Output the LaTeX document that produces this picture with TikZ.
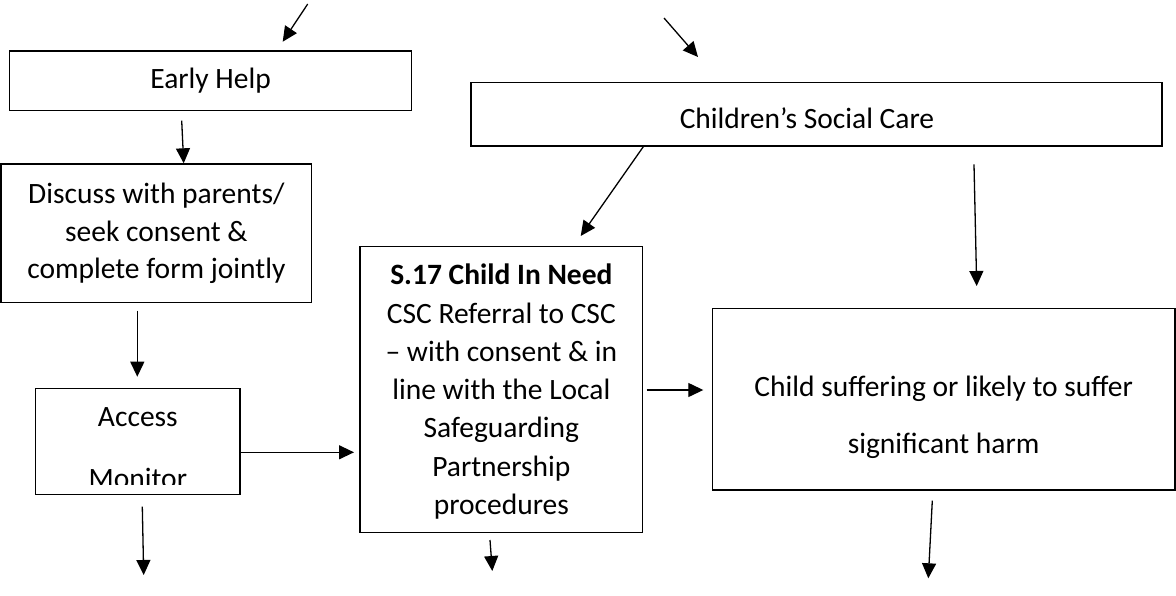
\documentclass[tikz,border=0pt]{standalone}
\usepackage{fontspec}
\setmainfont{Carlito}
\usetikzlibrary{arrows.meta}
\begin{document}
\begin{tikzpicture}[x=1pt,y=-1pt,
  box/.style={draw=black, line width=1.4pt, inner sep=0pt, shape=rectangle},
  lbl/.style={inner sep=0pt, align=center, text=black},
  arr/.style={line width=1.3pt, -{Triangle[length=15pt,width=14pt]}}]
\useasboundingbox (0,0) rectangle (1176,595);
% boxes
\node[box, minimum width=402.2pt, minimum height=59.5pt] (eh) at (210.6,80.75) {};
\node[box, minimum width=691pt, minimum height=63.7pt] (csc) at (816.5,114.15) {};
\node[box, minimum width=310.7pt, minimum height=138.7pt] (disc) at (156.35,233.35) {};
\node[box, minimum width=282.7pt, minimum height=286pt] (s17) at (501.35,389.7) {};
\node[box, minimum width=204.3pt, minimum height=106.4pt] (acc) at (137.85,441.5) {};
\node[box, minimum width=462.7pt, minimum height=181.7pt] (child) at (943.65,399.15) {};
% texts
\node[lbl, font=\fontsize{29.5}{34}\selectfont] (ehT) at (eh.center) {Early Help};
\node[lbl, font=\fontsize{29.5}{34}\selectfont] (cscT) at (807,118) {Children’s Social Care};
\node[lbl, font=\fontsize{29.5}{37.5}\selectfont] (discT) at (disc.center) {Discuss with parents/\\seek consent \&\\complete form jointly};
\node[lbl, font=\fontsize{29.5}{38.3}\selectfont] (s17T) at (501.35,391.7) {\textbf{S.17 Child In Need}\\CSC Referral to CSC\\– with consent \& in\\line with the Local\\Safeguarding\\Partnership\\procedures};
\node[lbl, font=\fontsize{29.5}{57}\selectfont] (childT) at (943.65,417) {Child suffering or likely to suffer\\significant harm};
\begin{scope}
  \clip (37,390) rectangle (239,484);
  \node[lbl, font=\fontsize{29.5}{34}\selectfont, anchor=base] (accT1) at (137.85,426.7) {Access};
  \node[lbl, font=\fontsize{29.5}{34}\selectfont, anchor=base] (accT2) at (137.85,488.7) {Monitor};
\end{scope}
% arrow end points
\coordinate (a1s) at (307.7,4);    \coordinate (a1e) at (282.7,41.7);
\coordinate (a2s) at (664,18);     \coordinate (a2e) at (698,57);
\coordinate (a3s) at (181.7,120.7);\coordinate (a3e) at (183.7,163.3);
\coordinate (a4s) at (643.3,146.7);\coordinate (a4e) at (580.7,236);
\coordinate (a5s) at (974,164.3);  \coordinate (a5e) at (976.7,286);
\coordinate (a6s) at (137.3,310.7);\coordinate (a6e) at (137.3,376.7);
\coordinate (a7s) at (240,452.3);  \coordinate (a7e) at (354,452.3);
\coordinate (a8s) at (646.7,390);  \coordinate (a8e) at (703.3,390);
\coordinate (a9s) at (142.3,506.7);\coordinate (a9e) at (143.7,575);
\coordinate (a10s) at (490,540);   \coordinate (a10e) at (492.3,571);
\coordinate (a11s) at (932.3,500.7);\coordinate (a11e) at (928.3,578.3);
\foreach \i in {1,...,11} { \draw[arr] (a\i s) -- (a\i e); }
\end{tikzpicture}
\end{document}
